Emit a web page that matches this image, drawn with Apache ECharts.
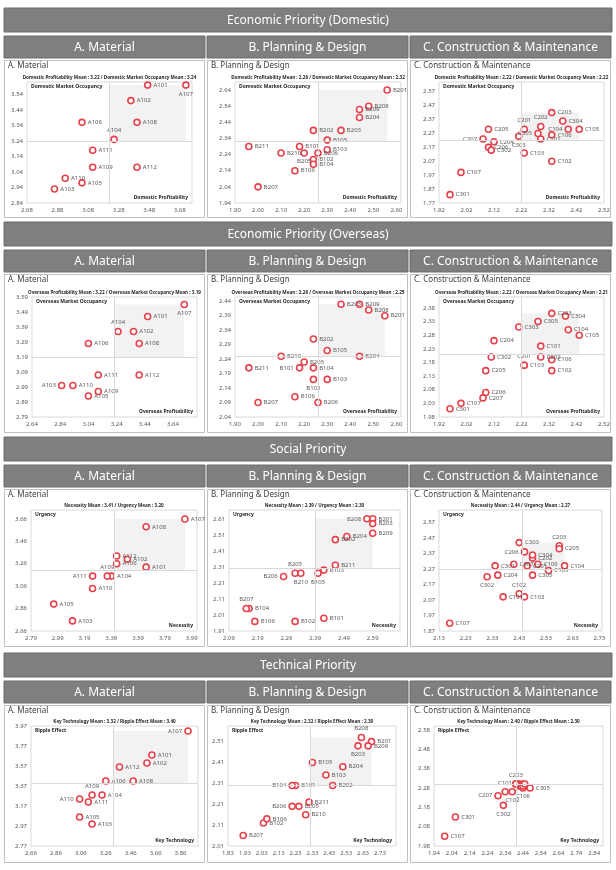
<!DOCTYPE html>
<html>
<head>
<meta charset="utf-8">
<script src="https://cdn.jsdelivr.net/npm/echarts@6/dist/echarts.min.js"></script>
<style>
html, body { margin: 0; padding: 0; background: #fff; }
#chart { width: 616px; height: 870px; }
</style>
</head>
<body>
<div id="chart"></div>
<script>
// item ids per group
var idsA = ['A101','A102','A103','A104','A105','A106','A107','A108','A109','A110','A111','A112'];
var idsB = ['B101','B102','B103','B104','B105','B106','B201','B202','B203','B204','B205','B206','B207','B208','B209','B210','B211'];
var idsC = ['C101','C102','C103','C104','C105','C106','C107','C201','C202','C203','C204','C205','C206','C207','C301','C302','C303','C304','C305'];

var sections = ['Economic Priority (Domestic)', 'Economic Priority (Overseas)', 'Social Priority', 'Technical Priority'];
var groups = ['A. Material', 'B. Planning & Design', 'C. Construction & Maintenance'];
var xNames = ['Domestic Profitability', 'Overseas Profitability', 'Necessity', 'Key Technology'];
var yNames = ['Domestic Market Occupancy', 'Overseas Market Occupancy', 'Urgency', 'Ripple Effect'];
var xMeans = [3.22, 2.26, 2.22, 3.22, 2.26, 2.22, 3.41, 2.39, 2.44, 3.32, 2.32, 2.40];
var yMeans = [3.24, 2.32, 2.22, 3.19, 2.25, 2.21, 3.20, 2.30, 2.27, 3.40, 2.30, 2.30];

// Economic (domestic)
var domAx = [3.47, 3.36, 2.86, 3.25, 3.04, 3.04, 3.72, 3.40, 3.11, 2.93, 3.11, 3.40];
var domAy = [3.60, 3.50, 2.93, 3.25, 2.97, 3.36, 3.60, 3.36, 3.07, 3.00, 3.18, 3.07];
var domBx = [2.18, 2.24, 2.30, 2.24, 2.30, 2.16, 2.56, 2.24, 2.36, 2.44, 2.20, 2.26, 2.00, 2.48, 2.44, 2.10, 1.96];
var domBy = [2.29, 2.21, 2.27, 2.18, 2.33, 2.14, 2.64, 2.39, 2.39, 2.47, 2.25, 2.25, 2.04, 2.54, 2.52, 2.25, 2.29];
var domCx = [2.29, 2.33, 2.23, 2.39, 2.43, 2.33, 2.00, 2.23, 2.29, 2.33, 2.12, 2.10, 2.10, 2.08, 1.96, 2.11, 2.21, 2.37, 2.28];
var domCy = [2.23, 2.07, 2.13, 2.30, 2.30, 2.26, 1.99, 2.30, 2.32, 2.42, 2.21, 2.30, 2.17, 2.23, 1.83, 2.15, 2.25, 2.36, 2.27];

// Economic (overseas)
var ovsAx = [3.46, 3.36, 2.85, 3.25, 3.04, 3.04, 3.72, 3.40, 3.11, 2.93, 3.11, 3.40];
var ovsAy = [3.46, 3.36, 3.00, 3.36, 2.93, 3.28, 3.54, 3.28, 2.96, 3.00, 3.07, 3.07];
var ovsBx = [2.18, 2.24, 2.30, 2.24, 2.30, 2.16, 2.55, 2.24, 2.36, 2.44, 2.20, 2.26, 2.00, 2.48, 2.44, 2.10, 1.96];
var ovsBy = [2.21, 2.17, 2.17, 2.21, 2.27, 2.11, 2.39, 2.31, 2.43, 2.25, 2.23, 2.09, 2.09, 2.41, 2.43, 2.25, 2.21];
var ovsCx = [2.29, 2.33, 2.23, 2.39, 2.43, 2.33, 2.00, 2.23, 2.29, 2.33, 2.12, 2.09, 2.09, 2.08, 1.96, 2.11, 2.21, 2.38, 2.28];
var ovsCy = [2.24, 2.15, 2.17, 2.30, 2.28, 2.19, 2.03, 2.17, 2.20, 2.36, 2.26, 2.15, 2.07, 2.05, 2.01, 2.20, 2.31, 2.35, 2.33];

// Social
var socAx = [3.65, 3.51, 3.10, 3.39, 2.96, 3.43, 3.94, 3.65, 3.36, 3.25, 3.25, 3.43];
var socAy = [3.23, 3.30, 2.75, 3.15, 2.90, 3.26, 3.66, 3.59, 3.15, 3.04, 3.15, 3.33];
var socBx = [2.42, 2.32, 2.42, 2.16, 2.40, 2.18, 2.59, 2.46, 2.59, 2.50, 2.32, 2.28, 2.15, 2.57, 2.59, 2.34, 2.46];
var socBy = [1.99, 1.97, 2.29, 2.05, 2.27, 1.97, 2.61, 2.48, 2.58, 2.50, 2.27, 2.25, 2.05, 2.61, 2.52, 2.27, 2.32];
var socCx = [2.37, 2.43, 2.45, 2.60, 2.54, 2.50, 2.17, 2.46, 2.48, 2.58, 2.35, 2.58, 2.45, 2.41, 2.34, 2.31, 2.43, 2.48, 2.48];
var socCy = [2.09, 2.11, 2.09, 2.29, 2.26, 2.30, 1.92, 2.29, 2.34, 2.42, 2.23, 2.40, 2.38, 2.30, 2.29, 2.22, 2.44, 2.36, 2.23];

// Technical
var tecAx = [3.63, 3.59, 3.15, 3.23, 3.05, 3.26, 3.92, 3.48, 3.15, 3.05, 3.12, 3.37];
var tecAy = [3.68, 3.60, 2.99, 3.28, 3.06, 3.42, 3.92, 3.42, 3.28, 3.24, 3.21, 3.56];
var tecBx = [2.23, 2.04, 2.41, 2.21, 2.33, 2.06, 2.68, 2.45, 2.60, 2.51, 2.25, 2.21, 1.92, 2.62, 2.66, 2.29, 2.31];
var tecBy = [2.30, 2.12, 2.35, 2.30, 2.41, 2.14, 2.51, 2.30, 2.49, 2.39, 2.20, 2.20, 2.06, 2.53, 2.49, 2.16, 2.22];
var tecCx = [2.34, 2.38, 2.42, 2.44, 2.45, 2.44, 2.00, 2.41, 2.42, 2.40, 2.43, 2.40, 2.44, 2.30, 2.06, 2.33, 2.40, 2.45, 2.48];
var tecCy = [2.26, 2.26, 2.30, 2.30, 2.29, 2.28, 2.03, 2.30, 2.29, 2.30, 2.29, 2.30, 2.29, 2.24, 2.13, 2.19, 2.30, 2.30, 2.28];

// tick labels per panel
var domAxTicks = [2.68, 2.88, 3.08, 3.28, 3.48, 3.68];
var domAyTicks = [2.84, 2.94, 3.04, 3.14, 3.24, 3.34, 3.44, 3.54];
var domBxTicks = [1.90, 2.00, 2.10, 2.20, 2.30, 2.40, 2.50, 2.60];
var domByTicks = [1.94, 2.04, 2.14, 2.24, 2.34, 2.44, 2.54, 2.64];
var domCxTicks = [1.92, 2.02, 2.12, 2.22, 2.32, 2.42, 2.52];
var domCyTicks = [1.77, 1.87, 1.97, 2.07, 2.17, 2.27, 2.37, 2.47, 2.57];
var ovsAxTicks = [2.64, 2.84, 3.04, 3.24, 3.44, 3.64];
var ovsAyTicks = [2.79, 2.89, 2.99, 3.09, 3.19, 3.29, 3.39, 3.49, 3.59];
var ovsBxTicks = [1.90, 2.00, 2.10, 2.20, 2.30, 2.40, 2.50, 2.60];
var ovsByTicks = [2.04, 2.09, 2.14, 2.19, 2.24, 2.29, 2.34, 2.39, 2.44];
var ovsCxTicks = [1.92, 2.02, 2.12, 2.22, 2.32, 2.42, 2.52];
var ovsCyTicks = [1.98, 2.03, 2.08, 2.13, 2.18, 2.23, 2.28, 2.33, 2.38];
var socAxTicks = [2.79, 2.99, 3.19, 3.39, 3.59, 3.79, 3.99];
var socAyTicks = [2.66, 2.86, 3.06, 3.26, 3.46, 3.66];
var socBxTicks = [2.09, 2.19, 2.29, 2.39, 2.49, 2.59];
var socByTicks = [1.91, 2.01, 2.11, 2.21, 2.31, 2.41, 2.51, 2.61];
var socCxTicks = [2.13, 2.23, 2.33, 2.43, 2.53, 2.63, 2.73];
var socCyTicks = [1.87, 1.97, 2.07, 2.17, 2.27, 2.37, 2.47, 2.57];
var tecAxTicks = [2.66, 2.86, 3.06, 3.26, 3.46, 3.66, 3.86];
var tecAyTicks = [2.77, 2.97, 3.17, 3.37, 3.57, 3.77, 3.97];
var tecBxTicks = [1.83, 1.93, 2.03, 2.13, 2.23, 2.33, 2.43, 2.53, 2.63, 2.73];
var tecByTicks = [2.01, 2.11, 2.21, 2.31, 2.41, 2.51];
var tecCxTicks = [1.94, 2.04, 2.14, 2.24, 2.34, 2.44, 2.54, 2.64, 2.74, 2.84];
var tecCyTicks = [1.98, 2.08, 2.18, 2.28, 2.38, 2.48, 2.58];

// label placement (default right)
var labelPos = [
    { A107: 'bottom', A104: 'top' },
    { B205: 'bottom' },
    { C201: 'top', C202: 'top', C104: 'left', C305: 'left', C303: 'bottom', C207: 'left' },
    { A107: 'bottom', A104: 'top', A103: 'left' },
    { B101: 'left', B102: 'bottom' },
    { C201: 'top' },
    { A109: 'top', A111: 'left' },
    { B208: 'left', B205: 'top', B210: 'bottom', B105: 'bottom', B206: 'left', B207: 'top' },
    { C203: 'top', C206: 'left', C302: 'bottom', C102: 'top' },
    { A107: 'left', A109: 'top', A110: 'left' },
    { B208: 'top', B203: 'bottom', B104: 'left', B206: 'left' },
    { C101: 'top', C102: 'bottom', C106: 'bottom', C207: 'left', C302: 'bottom', C203: 'top' }
];
var hideLabel = [{}, {}, {}, {}, {}, {}, {}, {}, {}, {}, {},
    { C103: 1, C104: 1, C105: 1, C201: 1, C202: 1, C204: 1, C205: 1, C206: 1, C303: 1, C304: 1 }];

// layout
var secTop = [8, 222, 437, 653];
var panelBottom = [217, 432, 646, 862];
var colLeft = [4, 207, 410];
var colW = 201;
var plotTB = [[82, 203], [297, 417], [510, 631], [726, 846]];
var plotLR = [[27, 192], [235, 401], [439, 604], [32, 197], [235, 401], [439, 604],
              [31, 197], [229, 400], [439, 602], [31, 198], [228, 396], [434, 603]];
var axisMax = [[3.76, 3.62], [2.62, 2.69], [2.52, 2.64], [3.81, 3.59], [2.62, 2.455], [2.52, 2.42],
               [4.03, 3.74], [2.685, 2.665], [2.74, 2.65], [4.0, 3.97], [2.825, 2.585], [2.89, 2.60]];

var panels = [
    { ids: idsA, x: domAx, y: domAy, xt: domAxTicks, yt: domAyTicks },
    { ids: idsB, x: domBx, y: domBy, xt: domBxTicks, yt: domByTicks },
    { ids: idsC, x: domCx, y: domCy, xt: domCxTicks, yt: domCyTicks },
    { ids: idsA, x: ovsAx, y: ovsAy, xt: ovsAxTicks, yt: ovsAyTicks },
    { ids: idsB, x: ovsBx, y: ovsBy, xt: ovsBxTicks, yt: ovsByTicks },
    { ids: idsC, x: ovsCx, y: ovsCy, xt: ovsCxTicks, yt: ovsCyTicks },
    { ids: idsA, x: socAx, y: socAy, xt: socAxTicks, yt: socAyTicks },
    { ids: idsB, x: socBx, y: socBy, xt: socBxTicks, yt: socByTicks },
    { ids: idsC, x: socCx, y: socCy, xt: socCxTicks, yt: socCyTicks },
    { ids: idsA, x: tecAx, y: tecAy, xt: tecAxTicks, yt: tecAyTicks },
    { ids: idsB, x: tecBx, y: tecBy, xt: tecBxTicks, yt: tecByTicks },
    { ids: idsC, x: tecCx, y: tecCy, xt: tecCxTicks, yt: tecCyTicks }
];

var FONT = '"Noto Sans", "Liberation Sans", sans-serif';

function tickFormatter(ticks) {
    return function (v) {
        for (var i = 0; i < ticks.length; i++) {
            if (Math.abs(ticks[i] - v) < 1e-6) return v.toFixed(2);
        }
        return '';
    };
}

function makeAxis(p, ticks, max) {
    return {
        type: 'value',
        gridIndex: p,
        min: ticks[0],
        max: max,
        interval: +(ticks[1] - ticks[0]).toFixed(4),
        axisLine: { show: false },
        axisTick: { show: false },
        splitLine: { show: false },
        axisLabel: {
            fontSize: 6, color: '#595959', margin: 4, fontFamily: FONT,
            formatter: tickFormatter(ticks)
        }
    };
}

function txt(text, x, y, size, color, opts) {
    opts = opts || {};
    return {
        type: 'text', z: 20, silent: true,
        style: {
            text: text, x: x, y: y, fill: color,
            font: (opts.bold ? 'bold ' : '') + size + 'px ' + FONT,
            align: opts.align || 'left', textAlign: opts.align || 'left',
            verticalAlign: opts.va || 'middle', textVerticalAlign: opts.va || 'middle'
        }
    };
}

var grids = [], xAxes = [], yAxes = [], series = [], graphics = [];

for (var r = 0; r < 4; r++) {
    // section header
    graphics.push({ type: 'rect', z: 1, shape: { x: 4, y: secTop[r], width: 608, height: 24 },
        style: { fill: '#7f7f7f', stroke: '#6d6d6d', lineWidth: 1 } });
    graphics.push(txt(sections[r], 308, secTop[r] + 12.5, 12, '#ffffff', { align: 'center' }));
    for (var c = 0; c < 3; c++) {
        var p = r * 3 + c;
        var pd = panels[p];
        var sub = secTop[r] + 28;
        graphics.push({ type: 'rect', z: 1, shape: { x: colLeft[c], y: sub, width: colW, height: 22 },
            style: { fill: '#7f7f7f', stroke: '#6d6d6d', lineWidth: 1 } });
        graphics.push(txt(groups[c], colLeft[c] + colW / 2, sub + 11.5, 12, '#ffffff', { align: 'center' }));
        // panel box
        var pTop = sub + 24;
        graphics.push({ type: 'rect', z: -1, shape: { x: colLeft[c] + 0.5, y: pTop + 0.5, width: colW - 1, height: panelBottom[r] - pTop },
            style: { fill: '#ffffff', stroke: '#bfbfbf', lineWidth: 1 } });
        graphics.push(txt(groups[c], colLeft[c] + 4, pTop + 6, 8, '#404040'));

        var L = plotLR[p][0], R = plotLR[p][1], T = plotTB[r][0], B = plotTB[r][1];
        var meanText = xNames[r] + ' Mean : ' + xMeans[p].toFixed(2) + ' / ' + yNames[r] + ' Mean : ' + yMeans[p].toFixed(2);
        graphics.push(txt(meanText, (L + R) / 2, T - 4.5, 4.6, '#262626', { bold: true, align: 'center' }));
        graphics.push(txt(yNames[r], L + 4, T + 5, 5, '#262626', { bold: true }));
        graphics.push(txt(xNames[r], R - 4, B - 5, 5, '#262626', { bold: true, align: 'right' }));

        grids.push({
            left: L, top: T, width: R - L, height: B - T,
            show: true, borderColor: '#d9d9d9', borderWidth: 1, backgroundColor: '#ffffff',
            outerBoundsMode: 'none', containLabel: false
        });
        xAxes.push(makeAxis(p, pd.xt, axisMax[p][0]));
        yAxes.push(makeAxis(p, pd.yt, axisMax[p][1]));

        var data = pd.ids.map(function (id, i) {
            var item = { name: id, value: [pd.x[i], pd.y[i]] };
            var pos = labelPos[p][id];
            if (pos) item.label = { position: pos };
            if (hideLabel[p][id]) item.label = { show: false };
            return item;
        });

        series.push({
            type: 'scatter',
            xAxisIndex: p, yAxisIndex: p,
            data: data,
            symbol: 'circle',
            symbolSize: 6,
            itemStyle: { color: '#ffffff', borderColor: '#e8414b', borderWidth: 1.6, opacity: 1 },
            label: {
                show: true, position: 'right', distance: 2,
                fontSize: 6, color: '#595959', fontFamily: FONT,
                formatter: '{b}'
            },
            emphasis: { disabled: true },
            markArea: {
                silent: true,
                itemStyle: { color: '#f2f2f2' },
                data: [[{ xAxis: xMeans[p], yAxis: yMeans[p] }, { xAxis: 'max', yAxis: 'max' }]]
            },
            markLine: {
                silent: true,
                symbol: 'none',
                label: { show: false },
                lineStyle: { color: '#d9d9d9', type: 'solid', width: 1 },
                data: [{ xAxis: xMeans[p] }, { yAxis: yMeans[p] }]
            },
            animation: false
        });
    }
}

var chart = echarts.init(document.getElementById('chart'));
chart.setOption({
    backgroundColor: '#ffffff',
    animation: false,
    grid: grids,
    xAxis: xAxes,
    yAxis: yAxes,
    series: series,
    graphic: { elements: graphics }
});
</script>
</body>
</html>
